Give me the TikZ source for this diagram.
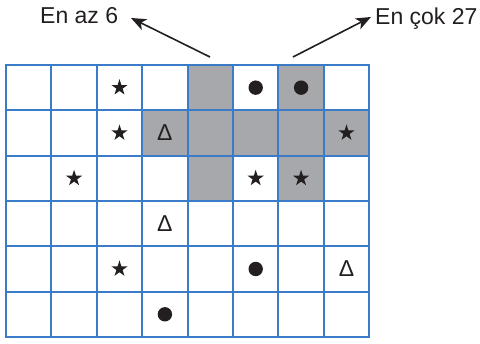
\documentclass[tikz,border=0pt]{standalone}
\usepackage{fontspec}
\setmainfont{Liberation Sans}
\usetikzlibrary{shapes.geometric,arrows.meta}
\definecolor{gridblue}{HTML}{3A7CC8}
\definecolor{cellgray}{HTML}{A7A8AB}
\definecolor{ink}{HTML}{231F20}
\begin{document}
\begin{tikzpicture}[x=1pt,y=1pt,
  lbl/.style={font=\fontsize{23}{27}\selectfont, inner sep=0pt, text=ink},
  arr/.style={draw=ink, line width=1.6pt, -{Stealth[length=15pt,width=12pt,inset=4pt]}},
  gridline/.style={draw=gridblue, line width=1.9pt, line cap=rect},
  shade/.style={fill=cellgray},
  starsym/.style={star, star points=5, star point ratio=2.618, minimum size=17pt, inner sep=0pt, fill=ink, draw=none},
  dotsym/.style={circle, minimum size=14.4pt, inner sep=0pt, fill=ink, draw=none},
  delsym/.style={font=\fontsize{23}{27}\selectfont, inner sep=0pt, text=ink}]
\useasboundingbox (0,0) rectangle (480,344);
\node[lbl, anchor=base west] (min) at (40,320) {En az 6};
\node[lbl, anchor=base west] (max) at (375,319) {En çok 27};
\coordinate (tailL) at (210,287);
\coordinate (tipL) at (131,326);
\coordinate (tailR) at (293,287);
\coordinate (tipR) at (371,327);
\draw[arr] (tailL) -- (tipL);
\draw[arr] (tailR) -- (tipR);
\begin{scope}[shift={(6,279)}, x=45.4pt, y=-45.33pt]
  \foreach \c/\r in {5/1,7/1,4/2,5/2,6/2,7/2,8/2,5/3,7/3}
    \fill[shade] (\c-1,\r-1) rectangle (\c,\r);
  \foreach \i in {0,...,8}
    \draw[gridline] (\i,0) -- (\i,6);
  \foreach \j in {0,...,6}
    \draw[gridline] (0,\j) -- (8,\j);
  \foreach \c/\r in {3/1,3/2,8/2,2/3,6/3,7/3,3/5}
    \node[starsym] (star-\c-\r) at (\c-0.5,\r-0.5) {};
  \foreach \c/\r in {6/1,7/1,6/5,4/6}
    \node[dotsym] (dot-\c-\r) at (\c-0.5,\r-0.5) {};
  \foreach \c/\r in {4/2,4/4,8/5}
    \node[delsym] (del-\c-\r) at (\c-0.5,\r-0.5) {Δ};
\end{scope}
\end{tikzpicture}
\end{document}
